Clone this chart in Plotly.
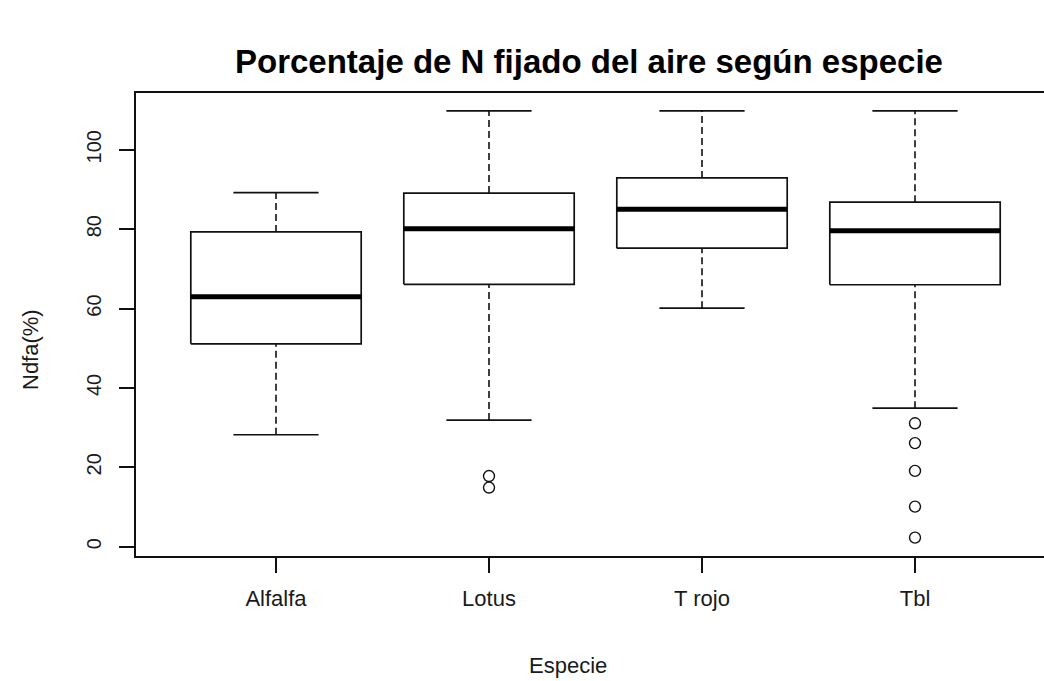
import plotly.graph_objects as go

# Resumen de cajas por especie (Ndfa, %)
especies = ["Alfalfa", "Lotus", "T rojo", "Tbl"]
bigote_inf = [28.2, 31.9, 60.1, 34.9]
q1 = [51.1, 66.1, 75.2, 66.0]
mediana = [63.0, 80.1, 85.0, 79.6]
q3 = [79.3, 89.1, 92.9, 86.8]
bigote_sup = [89.2, 109.8, 109.8, 109.8]
atipicos_lotus = [17.8, 14.9]
atipicos_tbl = [31.1, 26.1, 19.1, 10.1, 2.3]
ticks_y = [0, 20, 40, 60, 80, 100]

W, H = 1044, 681
L, T, B = 136, 93, 125
ancho_caja = 0.8
ancho_tope = 0.4
x_pos = list(range(1, len(especies) + 1))

negro = "#111111"
fuente = "Liberation Sans, Arial, sans-serif"

caja_x, caja_y = [], []
med_x, med_y = [], []
big_x, big_y = [], []
tope_x, tope_y = [], []
for x, a, b, c, d, e in zip(x_pos, bigote_inf, q1, mediana, q3, bigote_sup):
    h = ancho_caja / 2
    caja_x += [x - h, x + h, x + h, x - h, x - h, None]
    caja_y += [b, b, d, d, b, None]
    med_x += [x - h, x + h, None]
    med_y += [c, c, None]
    big_x += [x, x, None, x, x, None]
    big_y += [a, b, None, d, e, None]
    t = ancho_tope / 2
    tope_x += [x - t, x + t, None, x - t, x + t, None]
    tope_y += [a, a, None, e, e, None]

fig = go.Figure()
fig.add_trace(go.Scatter(x=big_x, y=big_y, mode="lines",
                         line=dict(color=negro, width=1.6, dash="7px,4px")))
fig.add_trace(go.Scatter(x=tope_x, y=tope_y, mode="lines",
                         line=dict(color=negro, width=1.7)))
fig.add_trace(go.Scatter(x=caja_x, y=caja_y, mode="lines",
                         line=dict(color=negro, width=1.7)))
fig.add_trace(go.Scatter(x=med_x, y=med_y, mode="lines",
                         line=dict(color="#000000", width=5)))
ox = [2] * len(atipicos_lotus) + [4] * len(atipicos_tbl)
oy = atipicos_lotus + atipicos_tbl
fig.add_trace(go.Scatter(x=ox, y=oy, mode="markers",
                         marker=dict(symbol="circle-open", size=11, color=negro,
                                     line=dict(width=1.4, color=negro))))

paso = 213.0
x_izq = 1 - (276 - L) / paso
x_der = x_izq + (W - L) / paso

fig.update_layout(
    width=W, height=H,
    margin=dict(l=L, r=0, t=T, b=B),
    paper_bgcolor="white", plot_bgcolor="white",
    showlegend=False,
    font=dict(family=fuente, color="#1a1a1a", size=21),
    xaxis=dict(range=[x_izq, x_der], tickvals=x_pos, ticktext=especies,
               showgrid=False, zeroline=False, showline=True, mirror=True,
               linecolor=negro, linewidth=1.7, ticks="outside", ticklen=15,
               tickwidth=1.6, tickcolor=negro, tickfont=dict(size=22),
               ticklabelstandoff=7, fixedrange=True),
    yaxis=dict(range=[-2.34, 114.3], tickvals=ticks_y,
               ticktext=[str(v) for v in ticks_y], tickangle=-90,
               showgrid=False, zeroline=False, showline=True, mirror=False,
               linecolor=negro, linewidth=1.7, ticks="outside", ticklen=15,
               tickwidth=1.6, tickcolor=negro, tickfont=dict(size=20),
               ticklabelstandoff=10, fixedrange=True),
    annotations=[
        dict(text="<b>Porcentaje de N fijado del aire según especie</b>",
             xref="paper", yref="paper", x=(589 - L) / (W - L), y=1 + (T - 62) / (H - T - B),
             xanchor="center", yanchor="middle", showarrow=False,
             font=dict(size=33, color="#000000", family=fuente)),
        dict(text="Especie", xref="paper", yref="paper",
             x=(568 - L) / (W - L), y=-(665 - (H - B)) / (H - T - B),
             xanchor="center", yanchor="middle", showarrow=False,
             font=dict(size=22, family=fuente)),
        dict(text="Ndfa(%)", xref="paper", yref="paper", textangle=-90,
             x=-(L - 30) / (W - L), y=(H - B - 350) / (H - T - B),
             xanchor="center", yanchor="middle", showarrow=False,
             font=dict(size=22, family=fuente)),
    ],
)

fig.write_html("out.html")
